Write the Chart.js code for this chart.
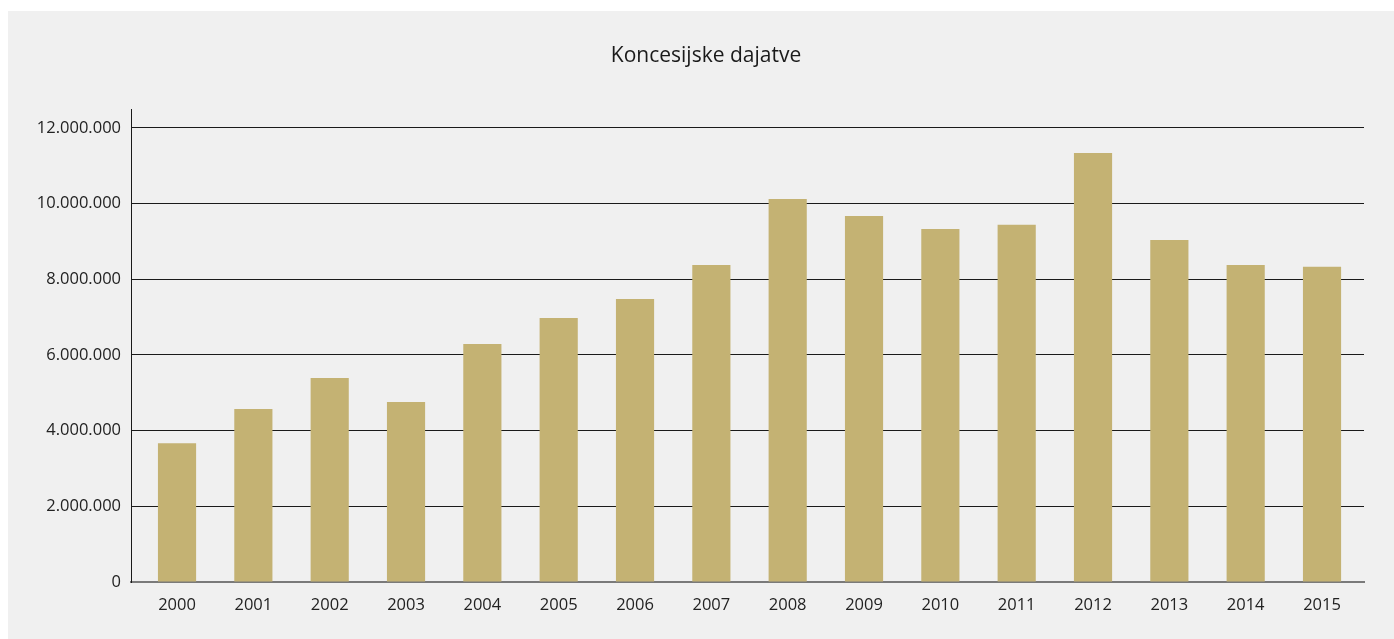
<!DOCTYPE html>
<html>
<head>
<meta charset="utf-8">
<script src="https://cdn.jsdelivr.net/npm/chart.js@4.4.1/dist/chart.umd.min.js"></script>
<style>
  html, body { margin: 0; padding: 0; background: #ffffff; }
  #wrap { position: absolute; left: 8px; top: 11px; width: 1386px; height: 628px; background: #f0f0f0; }
  canvas { display: block; }
</style>
</head>
<body>
<div id="wrap"><canvas id="c" width="1386" height="628"></canvas></div>
<script>
const title = 'Koncesijske dajatve';
const categories = ['2000','2001','2002','2003','2004','2005','2006','2007','2008','2009','2010','2011','2012','2013','2014','2015'];
const values = [3670000, 4570000, 5390000, 4760000, 6290000, 6980000, 7480000, 8380000, 10120000, 9670000, 9330000, 9440000, 11340000, 9040000, 8380000, 8330000];
const yTicks = [0, 2000000, 4000000, 6000000, 8000000, 10000000, 12000000];
const yMax = 12500000;

function fmt(v) {
  return String(Math.round(v)).replace(/\B(?=(\d{3})+(?!\d))/g, '.');
}

const points = values.map((v, i) => ({ x: i, y: v }));

const titlePlugin = {
  id: 'offsetTitle',
  afterDraw(chart) {
    const ctx = chart.ctx;
    ctx.save();
    ctx.font = '21px "Open Sans"';
    ctx.fillStyle = '#1a1a1a';
    ctx.textAlign = 'center';
    ctx.textBaseline = 'middle';
    ctx.fillText(title, 698, 45);
    ctx.restore();
  }
};

new Chart(document.getElementById('c'), {
  type: 'bar',
  data: {
    labels: categories,
    datasets: [{
      data: points,
      backgroundColor: '#c4b273',
      borderWidth: 0,
      barPercentage: 0.5,
      categoryPercentage: 1.0
    }]
  },
  plugins: [titlePlugin],
  options: {
    responsive: false,
    animation: false,
    layout: { padding: { left: 0, right: 30, top: 98, bottom: 20 } },
    plugins: {
      legend: { display: false },
      tooltip: { enabled: false },
      title: { display: false }
    },
    scales: {
      x: {
        type: 'linear',
        min: -0.603,
        max: 15.55,
        offset: false,
        afterBuildTicks: (s) => { s.ticks = categories.map((c, i) => ({ value: i })); },
        grid: { display: false, drawTicks: false },
        border: { display: true, color: '#7a7a7a', width: 2 },
        ticks: {
          color: '#222',
          font: { family: 'Open Sans', size: 16.5 },
          padding: 13,
          maxRotation: 0,
          autoSkip: false,
          callback: (v) => categories[Math.round(v)]
        },
        afterFit: (s) => { s.height = 37; }
      },
      y: {
        min: 0,
        max: yMax,
        afterBuildTicks: (s) => { s.ticks = yTicks.map(v => ({ value: v })); },
        grid: {
          drawTicks: false,
          color: (ctx) => (ctx.tick && ctx.tick.value === 0) ? 'rgba(0,0,0,0)' : '#1a1a1a',
          lineWidth: 1
        },
        border: { display: true, color: '#1a1a1a', width: 1 },
        ticks: {
          color: '#222',
          font: { family: 'Open Sans', size: 16.5 },
          padding: 10,
          callback: (v) => fmt(v)
        },
        afterFit: (s) => { s.width = 123; }
      }
    }
  }
});
</script>
</body>
</html>
